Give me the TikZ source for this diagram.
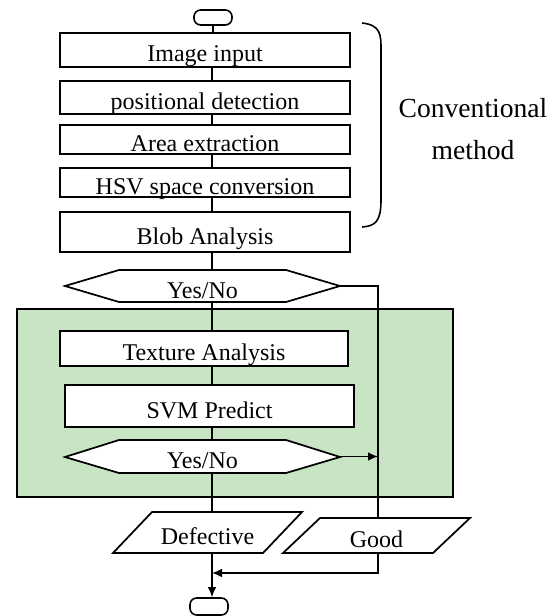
\documentclass[tikz,border=0pt]{standalone}
\usepackage{fontspec}
\setmainfont{Liberation Serif}
\usetikzlibrary{arrows.meta, calc}
\definecolor{panelgreen}{RGB}{200,228,197}

\begin{document}
\begin{tikzpicture}[x=0.75pt, y=-0.75pt, >={Latex[length=7.5pt,width=6.5pt]},
	font=\fontsize{18}{20}\selectfont,
	box/.style={draw, line width=1.3pt, fill=white, inner sep=0pt, text height=18pt, text depth=0pt},
	plain/.style={inner sep=0pt, text height=18pt, text depth=0pt},
	outline/.style={draw, line width=1.3pt, fill=white},
	flow/.style={line width=1.1pt},
	term/.style={draw, line width=1.2pt, fill=white, rounded corners=5pt, minimum width=28.5pt}]
	
	\useasboundingbox (0,0) rectangle (553,616);
	
	% 1. Green panel round the texture part
	\draw[line width=1.3pt, fill=panelgreen] (17,309) rectangle (453,497);
	
	% 2. Conventional steps
	\node[term, minimum height=11.25pt] (start) at (213,17.5) {};
	\node[box, minimum width=217.5pt, minimum height=25.5pt] (img) at (205,50) {Image input};
	\node[box, minimum width=217.5pt, minimum height=24.75pt] (pos) at (205,97.5) {positional detection};
	\node[box, minimum width=217.5pt, minimum height=21.75pt] (area) at (205,139.5) {Area extraction};
	\node[box, minimum width=217.5pt, minimum height=21.75pt] (hsv) at (205,182.5) {HSV space conversion};
	\node[box, minimum width=217.5pt, minimum height=30pt] (blob) at (205,232) {Blob Analysis};
	
	% first decision
	\draw[outline] (65,286) -- (119,270) -- (286,270) -- (340,286) -- (286,302) -- (119,302) -- cycle;
	\node[plain, minimum width=206.25pt, minimum height=24pt] (yn1) at (202.5,286) {Yes/No};
	
	% 3. Texture part (inside the panel)
	\node[box, minimum width=216pt, minimum height=26.25pt] (tex) at (204,348.5) {Texture Analysis};
	\node[box, minimum width=216.75pt, minimum height=31.5pt] (svm) at (209.5,406) {SVM Predict};
	
	% second decision
	\draw[outline] (65,457) -- (119,440) -- (286,440) -- (340,457) -- (286,473) -- (119,473) -- cycle;
	\node[plain, minimum width=206.25pt, minimum height=24.75pt] (yn2) at (202.5,456.5) {Yes/No};
	
	% 4. Results
	\draw[outline] (113,553) -- (152,512) -- (302,512) -- (263,553) -- cycle;
	\node[plain, minimum width=112.5pt, minimum height=30.75pt] (def) at (207.5,532.5) {Defective};
	\draw[outline] (283,553) -- (320,518) -- (470,518) -- (433,553) -- cycle;
	\node[plain, minimum width=112.5pt, minimum height=26.25pt] (good) at (376.5,535.5) {Good};
	
	\node[term, minimum height=12.75pt] (stop) at (209,606.5) {};
	
	% 5. Connectors
	\coordinate (spine) at (212,0);
	\coordinate (rail) at (378,0);
	\coordinate (merge) at (212,573);
	
	\draw[flow] (start.south) -- (start.south |- img.north);
	\draw[flow] (img.south -| spine) -- (pos.north -| spine);
	\draw[flow] (pos.south -| spine) -- (area.north -| spine);
	\draw[flow] (area.south -| spine) -- (hsv.north -| spine);
	\draw[flow] (hsv.south -| spine) -- (blob.north -| spine);
	\draw[flow] (blob.south -| spine) -- (yn1.north -| spine);
	\draw[flow] (yn1.south -| spine) -- (tex.north -| spine);
	\draw[flow] (tex.south -| spine) -- (svm.north -| spine);
	\draw[flow] (svm.south -| spine) -- (yn2.north -| spine);
	\draw[flow] (yn2.south -| spine) -- (def.north -| spine);
	
	\draw[flow] (yn1.east) -| (good.north -| rail);
	\draw[flow, ->] (yn2.east) -- (yn2.east -| rail);
	\draw[flow, ->] (good.south -| rail) |- (merge);
	\draw[flow, ->] (def.south -| spine) -- (stop.north -| spine);
	
	% 6. Bracket and its text
	\draw[line width=1.2pt] (362,23) .. controls (381,25) and (381,35) .. (381,50) -- (381,200) .. controls (381,222) and (375,226) .. (362,227);
	\node[font=\fontsize{20.7}{31.5}\selectfont, align=center] (conv) at (473,129) {Conventional\\method};
	
\end{tikzpicture}
\end{document}
